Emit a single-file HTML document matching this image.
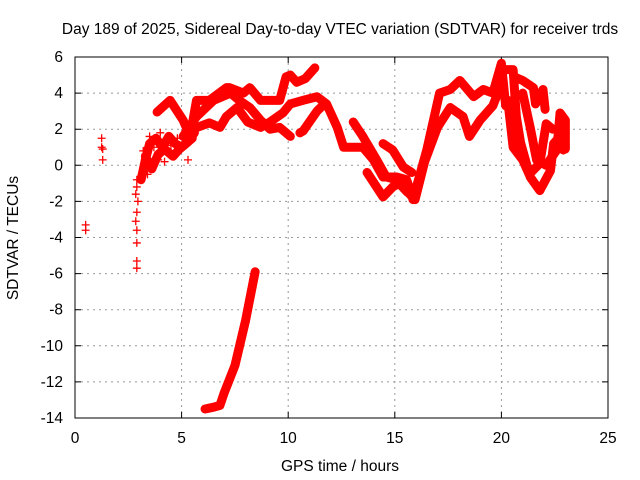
<!DOCTYPE html>
<html><head><meta charset="utf-8"><style>
body{margin:0;background:#fff}
svg{display:block;font-family:"Liberation Sans",sans-serif;font-size:15.5px}
</style></head><body>
<svg id="c" width="640" height="480">
<text x="340" y="34" text-anchor="middle">Day 189 of 2025, Sidereal Day-to-day VTEC variation (SDTVAR) for receiver trds</text>
<text x="340" y="471" text-anchor="middle">GPS time / hours</text>
<text x="18" y="238" text-anchor="middle" transform="rotate(-90 18 238)">SDTVAR / TECUs</text>
<g id="grid"></g><g id="marks"></g>
<rect x="75" y="57" width="533" height="361" fill="none" stroke="#000"/>
</svg>
<script>
const xTicks=[0,5,10,15,20,25];
const yTicks=[-14,-12,-10,-8,-6,-4,-2,0,2,4,6];
const scatterPts=[[0.5,-3.3],[0.5,-3.6],[1.25,1.5],[1.25,1.0],[1.3,0.9],[1.3,0.3],[2.9,-0.8],[2.9,-1.2],[2.85,-1.6],[2.95,-2.0],[2.9,-2.6],[2.85,-3.1],[2.9,-3.6],[2.9,-4.3],[2.9,-5.3],[2.9,-5.7],[5.3,0.3],[4.2,0.2],[3.4,-0.5],[3.5,1.6],[3.7,1.0],[4.0,1.8],[4.5,1.1],[4.8,1.5],[3.9,0.3],[3.2,0.8]];
const trackA=[[3.85,2.95],[4.46,3.6],[5.07,2.5],[5.4,1.6],[5.7,3.6],[6.3,3.6],[7.1,4.3],[7.25,4.3],[7.9,4.0],[8.2,4.3],[8.7,3.6],[9.15,3.6],[9.6,3.6],[9.9,4.9],[10.1,5.0],[10.4,4.6],[10.8,4.8],[11.25,5.4]];
const trackB=[[5.07,1.6],[5.7,2.7],[6.5,3.6],[7.3,4.0],[7.7,3.6],[8.2,3.2],[8.7,2.5],[9.15,2.0],[9.6,2.1],[10.1,1.6]];
const trackC=[[5.5,2.0],[6.3,2.35],[6.8,2.1],[7.1,2.7],[7.6,3.2],[8.1,2.4],[8.7,2.1],[9.15,2.4],[9.75,2.9],[10.1,3.4],[10.7,3.6],[11.35,3.8],[11.8,3.4],[12.3,2.1],[12.6,1.0],[12.9,1.0],[13.5,1.0],[14.0,0.3],[14.45,-0.65],[15.1,-0.65],[15.55,-0.8],[15.85,-1.75]];
const trackD=[[10.55,1.8],[10.7,1.9],[11.35,3.0],[11.7,3.4]];
const trackE=[[3.1,-0.8],[3.3,0.3],[3.5,1.2],[3.8,1.5],[4.1,1.0],[4.4,1.6],[4.7,1.2],[5.0,1.0],[5.3,1.3],[5.6,1.8]];
const trackF=[[3.3,0.5],[3.6,-0.2],[3.9,0.6],[4.2,0.9],[4.6,0.5],[4.9,0.9],[5.2,1.2],[5.5,1.5]];
const trackG=[[13.05,2.4],[13.5,1.6],[14.15,0.3],[14.6,-0.65],[15.1,-0.8],[15.55,-1.4],[15.85,-1.8]];
const trackH=[[13.7,-0.4],[14.45,-1.75],[14.9,-1.2],[15.2,-1.0],[15.6,-1.5]];
const trackI=[[14.45,1.2],[14.9,0.85],[15.4,-0.1],[15.8,-0.4]];
const trackJ=[[15.85,-1.9],[16.5,0.85],[17.1,4.0],[17.6,4.2],[18.05,4.7],[18.7,3.8],[19.15,4.2],[19.6,4.0],[20.0,5.65],[20.2,3.3]];
const trackK=[[15.95,-1.9],[16.4,0.2],[17.0,2.1],[17.6,3.2],[18.2,2.7],[18.5,1.6],[19.0,2.5],[19.6,3.3],[20.0,4.5]];
const trackL=[[20.1,5.3],[20.55,5.3],[20.7,2.7],[20.9,1.25],[21.35,-0.65],[21.8,-1.4],[22.3,-0.3],[22.45,1.2],[22.75,1.6],[22.9,0.85]];
const trackM=[[20.3,3.6],[20.55,1.0],[21.0,0.3],[21.3,-0.5],[21.8,0.1],[22.1,2.3],[22.4,2.0]];
const trackN=[[20.6,4.9],[21.0,4.7],[21.5,4.3],[21.6,3.4],[21.95,4.2],[22.05,3.1]];
const trackO=[[21.0,4.0],[21.35,2.1],[21.65,0.3],[22.1,0.0],[22.6,0.85],[22.75,2.9],[23.0,2.5],[23.0,0.9]];
const trackP=[[6.1,-13.5],[6.5,-13.4],[6.8,-13.3],[7.0,-12.6],[7.5,-11.1],[8.0,-8.6],[8.45,-5.9]];
const tracks=[trackA,trackB,trackC,trackD,trackE,trackF,trackG,trackH,trackI,trackJ,trackK,trackL,trackM,trackN,trackO,trackP];
const NS="http://www.w3.org/2000/svg";
function X(t){return 75+t*533/25;}
function Y(v){return 57+(6-v)*361/20;}
const grid=document.getElementById('grid'),marks=document.getElementById('marks');
xTicks.forEach(t=>{
 if(t>0&&t<25){const l=document.createElementNS(NS,'line');l.setAttribute('x1',X(t));l.setAttribute('x2',X(t));l.setAttribute('y1',57);l.setAttribute('y2',418);l.setAttribute('stroke','#999');l.setAttribute('stroke-dasharray','2,4');
 
 grid.appendChild(l);}
 const k=document.createElementNS(NS,'path');k.setAttribute('d',`M${X(t)},418v-6M${X(t)},57v6`);k.setAttribute('stroke','#000');
 
 grid.appendChild(k);
 const s=document.createElementNS(NS,'text');s.setAttribute('x',X(t));s.setAttribute('y',443);s.setAttribute('text-anchor','middle');s.textContent=t;
 
 grid.appendChild(s);
});
yTicks.forEach(v=>{
 if(v>-14&&v<6){const l=document.createElementNS(NS,'line');l.setAttribute('x1',75);l.setAttribute('x2',608);l.setAttribute('y1',Y(v));l.setAttribute('y2',Y(v));l.setAttribute('stroke','#999');l.setAttribute('stroke-dasharray','2,4');
 
 grid.appendChild(l);}
 const k=document.createElementNS(NS,'path');k.setAttribute('d',`M75,${Y(v)}h6M608,${Y(v)}h-6`);k.setAttribute('stroke','#000');
 
 grid.appendChild(k);
 const s=document.createElementNS(NS,'text');s.setAttribute('x',63);s.setAttribute('y',Y(v)+5);s.setAttribute('text-anchor','end');s.textContent=v;
 
 grid.appendChild(s);
});
function plus(t,v){const p=document.createElementNS(NS,'path');p.setAttribute('d',`M${X(t)-4},${Y(v)}h8M${X(t)},${Y(v)-4}v8`);p.setAttribute('stroke','red');p.setAttribute('stroke-width','1.3');
 
 marks.appendChild(p);}
tracks.forEach(tr=>{
 const pl=document.createElementNS(NS,'polyline');
 pl.setAttribute('points',tr.map(p=>X(p[0])+','+Y(p[1])).join(' '));
 pl.setAttribute('fill','none');pl.setAttribute('stroke','red');pl.setAttribute('stroke-width','9');pl.setAttribute('stroke-linejoin','round');pl.setAttribute('stroke-linecap','round');
 
 
 marks.appendChild(pl);
 tr.forEach(p=>plus(p[0],p[1]));
});
scatterPts.forEach(p=>plus(p[0],p[1]));
</script>
</body></html>
